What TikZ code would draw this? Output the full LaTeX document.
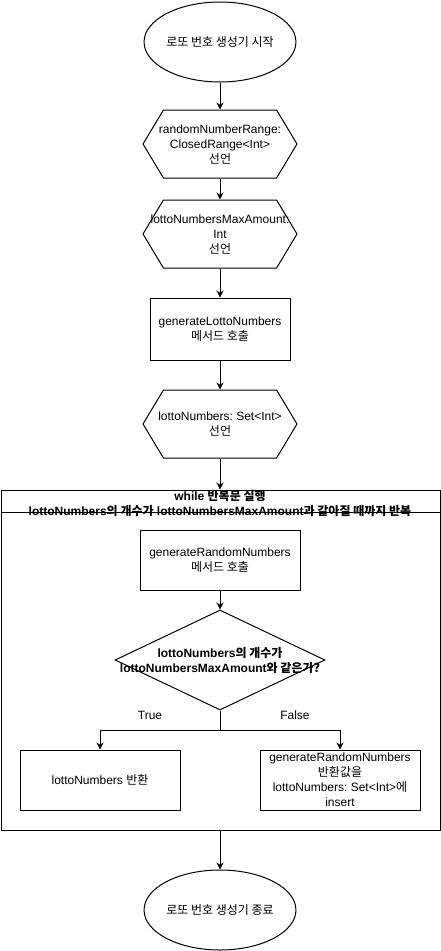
\documentclass[tikz,border=0pt]{standalone}
\usepackage{fontspec}
\setmainfont{Liberation Sans}
\newfontfamily\krfont{Noto Sans CJK KR}
\newcommand{\kr}[1]{{\krfont #1}}
\frenchspacing
\usetikzlibrary{shapes.geometric,shapes.symbols,arrows.meta}

\begin{document}
\begin{tikzpicture}[x=1pt,y=-1pt,line width=1pt,
	every node/.style={font=\fontsize{12}{15}\selectfont, align=center},
	terminal/.style={draw, ellipse, minimum width=110pt, minimum height=80pt, inner sep=0pt},
	decl/.style={draw, signal, signal to=west and east, signal pointer angle=118, minimum width=154pt, minimum height=68pt, inner sep=0pt},
	proc/.style={draw, rectangle, minimum width=140pt, minimum height=62pt, inner sep=0pt},
	cond/.style={draw, diamond, aspect=2.1, minimum width=210pt, minimum height=100pt, inner sep=0pt},
	boldtext/.style={font=\fontsize{12}{15}\selectfont\bfseries},
	flow/.style={-{Stealth[length=7pt,width=7pt]}}]
\useasboundingbox (0,0) rectangle (441,951);

\node[terminal] (start) at (220,42) {\kr{로또 번호 생성기 시작}};
\node[decl] (range) at (220,144) {};
\node (rangetext) at (range) {randomNumberRange:\\ClosedRange<Int>\\\kr{선언}};
\node[decl] (maxamount) at (220,234) {};
\node (maxamounttext) at (maxamount) {lottoNumbersMaxAmount:\\Int\\\kr{선언}};
\node[proc] (genlotto) at (220,329) {generateLottoNumbers\\\kr{메서드 호출}};
\node[decl] (lottoset) at (220,424) {};
\node (lottosettext) at (lottoset) {lottoNumbers: Set<Int>\\\kr{선언}};

% while loop container
\node[draw, minimum width=439pt, minimum height=340pt, inner sep=0pt] (loop) at (220.5,660) {};
\draw ([yshift=-23pt]loop.north west) -- ([yshift=-23pt]loop.north east);
\node[boldtext] (looptitle) at (220,504) {while \kr{반복문 실행}\\lottoNumbers\kr{의 개수가} lottoNumbersMaxAmount\kr{과 같아질 때까지 반복}};

\node[proc, minimum width=160pt, minimum height=60pt] (genrandom) at (220,560) {generateRandomNumbers\\\kr{메서드 호출}};
\node[cond] (check) at (220,660) {};
\node[boldtext] (checktext) at (check) {lottoNumbers\kr{의 개수가}\\lottoNumbersMaxAmount\kr{와 같은가?}};
\coordinate (split) at (220,730);
\node (truelabel) at (150,715) {True};
\node (falselabel) at (295,715) {False};
\node[proc, minimum width=160pt, minimum height=60pt] (ret) at (100,780) {lottoNumbers \kr{반환}};
\node[proc, minimum width=160pt, minimum height=60pt] (insert) at (340,780) {generateRandomNumbers\\\kr{반환값을}\\lottoNumbers: Set<Int>\kr{에}\\insert};

\node[terminal] (finish) at (220,910) {\kr{로또 번호 생성기 종료}};

% connectors
\draw[flow] (start) -- (range);
\draw[flow] (range) -- (maxamount);
\draw[flow] (maxamount) -- (genlotto);
\draw[flow] (genlotto) -- (lottoset);
\draw[flow] (lottoset) -- (loop.north -| lottoset);
\draw[flow] (genrandom) -- (check);
\draw (check.south) -- (split);
\draw[flow] (split) -| (ret);
\draw[flow] (split) -| (insert);
\draw[flow] (loop.south -| finish) -- (finish);
\end{tikzpicture}
\end{document}
